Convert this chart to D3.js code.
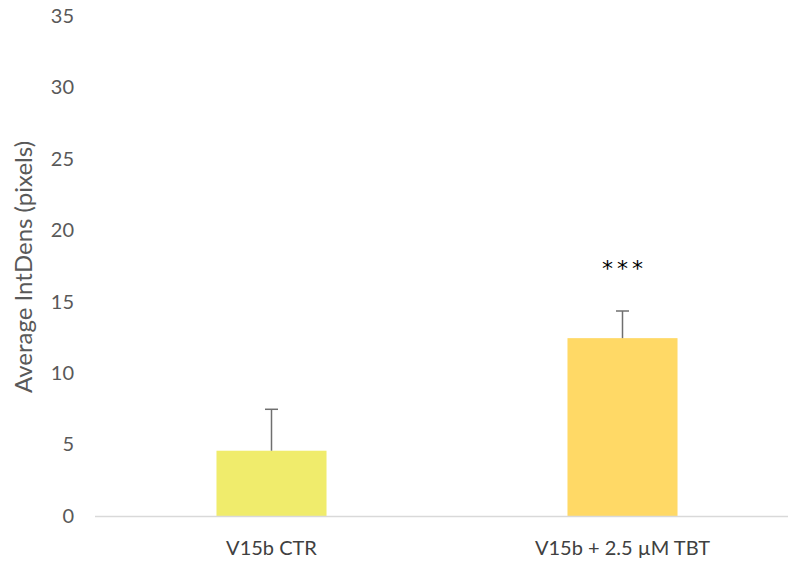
<!DOCTYPE html>
<html>
<head>
<meta charset="utf-8">
<script src="https://cdn.jsdelivr.net/npm/d3@7"></script>
<style>
  html, body { margin: 0; padding: 0; background: #fff; }
  svg { display: block; }
  text { font-family: Lato, "Open Sans", sans-serif; }
</style>
</head>
<body>
<svg id="chart" width="788" height="565"></svg>
<script>
// Average integrated density per condition, with error (upper bound shown)
const categories = ["V15b CTR", "V15b + 2.5 µM TBT"];
const means = [4.57, 12.45];
const errors = [2.9, 1.9];
const significance = ["", "***"];
const barColors = ["#F0EC6C", "#FFD966"];
const yTicks = [0, 5, 10, 15, 20, 25, 30, 35];

const W = 788, H = 565;
const margin = { top: 16, right: -10, bottom: 49, left: 96 };

const svg = d3.select("#chart");

const x = d3.scaleBand()
  .domain(categories)
  .range([margin.left, W - margin.right])
  .padding(0);

const y = d3.scaleLinear()
  .domain([0, 35])
  .range([H - margin.bottom, margin.top]);

// Excel-style gap width: bar = step / (1 + 2.19)
const barW = x.bandwidth() / 3.19;

// Y axis tick labels (no axis line)
const yAxis = d3.axisLeft(y).tickValues(yTicks).tickSize(0).tickPadding(0);
const gy = svg.append("g").attr("transform", `translate(${margin.left - 22},0)`).call(yAxis);
gy.select(".domain").remove();
gy.selectAll("text")
  .attr("fill", "#595959")
  .style("font-size", "20px")
  .style("font-family", "Lato, sans-serif");

// Y axis title
svg.append("text")
  .attr("transform", `translate(26,${(y(0) + y(35)) / 2 + 1}) rotate(-90)`)
  .attr("text-anchor", "middle")
  .attr("dominant-baseline", "middle")
  .attr("fill", "#595959")
  .style("font-size", "24px")
  .text("Average IntDens (pixels)");

// Bars
svg.selectAll("rect.bar")
  .data(categories)
  .join("rect")
  .attr("class", "bar")
  .attr("x", (d) => x(d) + x.bandwidth() / 2 - barW / 2)
  .attr("width", barW)
  .attr("y", (d, i) => y(means[i]))
  .attr("height", (d, i) => y(0) - y(means[i]))
  .attr("fill", (d, i) => barColors[i]);

// Baseline (category axis)
svg.append("line")
  .attr("x1", margin.left - 1)
  .attr("x2", W)
  .attr("y1", y(0) + 0.5)
  .attr("y2", y(0) + 0.5)
  .attr("stroke", "#d9d9d9")
  .attr("stroke-width", 1.5);

// Error bars (upper)
const capW = 13;
const eb = svg.selectAll("g.err")
  .data(categories)
  .join("g")
  .attr("class", "err");
eb.append("line")
  .attr("x1", (d) => x(d) + x.bandwidth() / 2)
  .attr("x2", (d) => x(d) + x.bandwidth() / 2)
  .attr("y1", (d, i) => y(means[i]))
  .attr("y2", (d, i) => y(means[i] + errors[i]))
  .attr("stroke", "#6f6f6f")
  .attr("stroke-width", 1.5);
eb.append("line")
  .attr("x1", (d) => x(d) + x.bandwidth() / 2 - capW / 2)
  .attr("x2", (d) => x(d) + x.bandwidth() / 2 + capW / 2)
  .attr("y1", (d, i) => y(means[i] + errors[i]))
  .attr("y2", (d, i) => y(means[i] + errors[i]))
  .attr("stroke", "#6f6f6f")
  .attr("stroke-width", 1.5);

// Significance markers
svg.selectAll("text.sig")
  .data(categories)
  .join("text")
  .attr("class", "sig")
  .attr("x", (d) => x(d) + x.bandwidth() / 2 + 2)
  .attr("y", (d, i) => y(means[i] + errors[i]) - 35)
  .attr("text-anchor", "middle")
  .attr("fill", "#000")
  .style("font-family", "'DejaVu Sans', sans-serif")
  .style("font-size", "22px")
  .style("letter-spacing", "4px")
  .text((d, i) => significance[i]);

// Category labels
svg.selectAll("text.cat")
  .data(categories)
  .join("text")
  .attr("class", "cat")
  .attr("x", (d) => x(d) + x.bandwidth() / 2)
  .attr("y", y(0) + 39)
  .attr("text-anchor", "middle")
  .attr("fill", "#404040")
  .style("font-size", "20px")
  .text((d) => d);
</script>
</body>
</html>
